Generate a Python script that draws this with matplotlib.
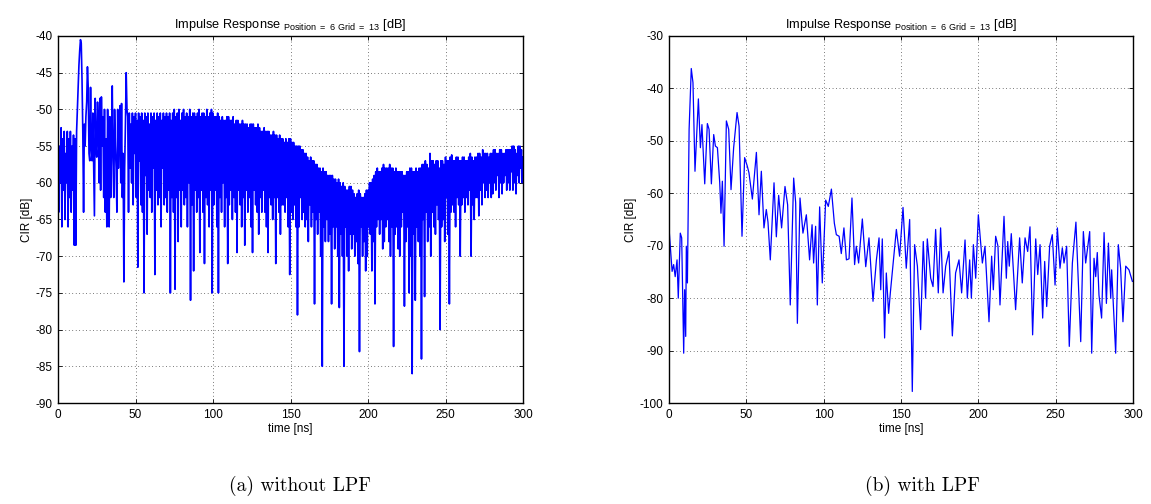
import matplotlib
matplotlib.use("Agg")
import matplotlib.pyplot as plt

# ---------------- data ----------------
# (a) without LPF : CIR in dB, one value every 0.5 ns from 0 to 300 ns
cir_raw_db = [
    -53, -64, -55, -60, -52.5, -66, -54, -61, -53, -65,
    -56, -60, -53, -66, -54, -62, -53, -64, -55, -61,
    -53.5, -68.5, -54, -68.5, -53, -50, -47, -44, -42, -40.5,
    -41, -46, -53, -64, -52, -55, -51, -49, -44.2, -47,
    -56, -57, -47, -55, -57, -50.5, -58, -64.5, -48.5, -55,
    -56.5, -49, -52, -60, -48.5, -61, -48.3, -55, -51, -62,
    -50, -64, -54, -66, -50, -56, -66, -51, -62, -55,
    -46.8, -57, -62, -50, -55, -58, -64, -50, -58, -53,
    -49.5, -60, -49.2, -62, -56, -73.5, -58, -52, -45, -50,
    -51, -64, -50.5, -58, -52, -60, -50.5, -63, -51, -56,
    -50.5, -62, -51.5, -71.5, -50.5, -57, -51, -63, -50.5, -64,
    -51.5, -75, -50.5, -59, -51, -67, -50.5, -61, -52, -62,
    -50.5, -64, -51, -58, -50.5, -72.5, -51.5, -61, -50.5, -63,
    -51, -62, -50.5, -66, -51.5, -58, -50.5, -63, -51, -62,
    -50.5, -64, -51, -61, -50.5, -75, -51.5, -62, -50.5, -64,
    -50, -74.5, -51, -62, -50.5, -68, -50, -61, -51.5, -66,
    -50.5, -61, -50, -63, -51, -62, -50.5, -66, -51, -60,
    -50, -76, -51, -63, -50.5, -72, -50.5, -61, -51, -64,
    -50.5, -62, -50, -69.5, -51, -61, -50.5, -64, -50.5, -71,
    -51, -62, -50, -63, -51, -66, -50.5, -61, -50, -75,
    -50.5, -63, -51, -61, -51, -66, -50.5, -75, -51, -62,
    -51.5, -64, -51, -60, -51.5, -66, -51.5, -62, -51, -71,
    -51, -63, -51.5, -61, -51.5, -65, -51, -62, -52, -64,
    -51.5, -69.5, -51.5, -61, -52, -63, -52, -66, -51.5, -62,
    -52, -68.5, -52, -61, -52, -64, -52.5, -62, -52, -66,
    -52, -69.5, -52, -61, -52.5, -63, -52.5, -64, -52, -67,
    -52.5, -62, -53, -64, -53, -61, -52.5, -64, -53, -66,
    -53, -69.5, -53, -62, -53.5, -63, -53.5, -65, -53, -62,
    -53.5, -71, -53.5, -62, -54, -64, -53.5, -67, -54, -63,
    -54, -63, -54.5, -64, -54, -62, -54.5, -66, -54, -72.5,
    -54, -64, -54.5, -65, -54.5, -63, -55, -66, -55, -78,
    -55, -66, -55, -62, -55.5, -65, -55.5, -64, -56, -66,
    -56, -65, -56.5, -68, -57, -63, -56.5, -66, -57, -64,
    -57, -76.5, -57.5, -65, -57.5, -67, -58, -64, -58, -70,
    -58.5, -85, -58, -66, -58.5, -68, -58.5, -65, -59, -68,
    -59, -67, -59, -76.5, -59, -66, -59.5, -69, -59.5, -66,
    -60, -70, -59.5, -77, -60, -67, -60.5, -70, -60, -85,
    -60.5, -66, -61, -70, -61, -72, -60.5, -67, -60.5, -69,
    -61, -67, -61.5, -70, -62, -68, -61.5, -71, -61, -83,
    -61.5, -66, -62, -70, -62, -68, -61.5, -72, -61, -70,
    -61, -66, -60, -67, -60, -72, -59.5, -68, -59, -76.5,
    -58.5, -66, -58, -65, -58.5, -67, -58.5, -65, -58, -69,
    -57.5, -68, -58, -66, -58, -65, -58, -68, -57.5, -70,
    -58, -66, -58, -82.3, -58.5, -67, -58, -66, -58.5, -69,
    -58.5, -70, -58.5, -66, -58.5, -64, -59, -76.8, -59, -68,
    -58.5, -66, -58.5, -75, -58, -70, -58, -86, -58.5, -67,
    -58.5, -76, -58, -66, -58.5, -68, -58, -70, -58, -84,
    -57.5, -65, -57.5, -75.5, -57, -64, -57.5, -68, -58, -66,
    -56, -70, -57, -64, -57, -66, -57.5, -67, -57, -63,
    -57, -65, -58, -80, -57, -66, -57, -65, -57.5, -68,
    -56.5, -62, -57, -67, -57, -76.5, -56.5, -64, -56.2, -63,
    -57, -64, -57, -66, -56.5, -62, -56.5, -63, -57, -70,
    -57, -63, -56.5, -62, -56.5, -64, -57, -62, -57, -63,
    -56.5, -61, -56, -70, -56.5, -63, -57, -65, -56.5, -62,
    -56.5, -62, -56, -64.5, -56, -61, -56.5, -63, -55.5, -60,
    -56, -62, -56, -61, -56, -62, -56.5, -60, -56, -62,
    -56, -61.5, -55.5, -60, -55.5, -61, -56, -59, -56, -62,
    -55.5, -60, -55.5, -61.5, -56, -60, -56, -59, -55.5, -61,
    -55.5, -60, -55.5, -61, -55.5, -58.5, -55, -61, -55, -60,
    -55.5, -61.5, -56, -59, -55, -60, -55, -58, -55.5, -60,
    -56.5,
]
time_raw_ns = [i * 0.5 for i in range(len(cir_raw_db))]

# (b) with LPF : (time [ns], CIR [dB]) read at the turning points
time_lpf_ns = [
    0, 2, 3, 4, 5.2, 6, 7.3, 8.2, 9.5, 10.1, 10.8, 11.2, 11.9, 13, 14.4, 15.5,
    16.8, 19, 20.3, 21.3, 23.1, 24.8, 25.9, 27.4, 28.9, 30, 31.3, 32.8, 33.6,
    34.5, 35.6, 37.1, 38.6, 40.1, 41.8, 44, 45.3, 47.2, 48.9, 50.6, 51.7, 53.9,
    56.5, 58.2, 59.7, 61.4, 62.9, 64, 65.5, 67.9, 69.4, 70.9, 72.8, 75, 76.7,
    78.4, 80.6, 81.9, 83, 84.7, 86.6, 88.8, 90.9, 92.5, 93.5, 94.8, 95.9, 97.4,
    99.1, 101.3, 103, 105, 106.9, 108.2, 110, 111.4, 113.1, 114.7, 116.4, 118.3,
    120, 121.1, 122.6, 125, 127.2, 129.3, 131.9, 134.1, 135.8, 136.9, 137.9,
    139.4, 140.5, 142, 143.1, 144.4, 147, 149.1, 151.3, 153.4, 155.6, 157.3,
    158.8, 160.6, 162.7, 164.4, 165.9, 167, 169.2, 170.7, 172.4, 174.1, 175.6,
    177.2, 178.9, 181, 183.2, 185.3, 187.5, 189.2, 191.4, 192.9, 194.4, 195.5,
    196.8, 198.3, 200, 202.6, 204.3, 206.9, 208.6, 209.7, 211.2, 212.7, 214,
    216.6, 218.1, 219, 220, 221.3, 224.1, 226.7, 228.4, 230.2, 231.9, 233.4,
    235.1, 237.1, 238.4, 239.9, 241.6, 242.9, 244.2, 246.1, 247.8, 249.6, 251.1,
    252.8, 254.3, 255.4, 257.1, 258.8, 260.8, 263.1, 266.2, 267.9, 269.4, 272,
    273.3, 274.8, 275.9, 276.9, 278, 279.7, 281.3, 282.8, 284.1, 285.6, 286.2,
    288.8, 290.5, 292, 293.5, 295.3, 297.4, 299.6,
]
cir_lpf_db = [
    -66.6, -74.9, -73.6, -75.9, -72.7, -80, -67.6, -68.5, -90.5, -78.4, -87.3,
    -70.1, -77.1, -47.8, -36.2, -38.9, -55.8, -42, -51.3, -46.9, -58.2, -46.7,
    -47.8, -58.2, -48.8, -51, -51.3, -58, -63.8, -57.7, -70.1, -46.2, -47.8,
    -59.3, -51.3, -44.6, -47.2, -68.2, -53.2, -54.8, -56.1, -61.1, -52.2, -64.1,
    -55.8, -66.6, -63.1, -65.5, -72.7, -58, -68.3, -60.4, -66.6, -58.7, -62.2,
    -81.3, -57.1, -61.8, -84.8, -60.9, -67.6, -64.1, -72.7, -66, -73.3, -66.3,
    -81.3, -62.6, -77.1, -61.3, -62.5, -59.2, -65.7, -67.9, -68.2, -71.5, -66.6,
    -72.7, -72.5, -60.9, -73.6, -70.1, -73.3, -64.9, -74, -68.5, -80.6, -72.7,
    -68.5, -78.4, -68.7, -87.6, -75.2, -82.9, -79, -74.9, -66.9, -72, -62.7,
    -74.3, -65, -97.8, -69.8, -73.9, -86, -69.2, -80, -68.7, -76.2, -77.8,
    -66.9, -79, -66.6, -79, -73.9, -71.1, -87.2, -75.2, -72.7, -79, -68.9, -80,
    -72.7, -80, -69.8, -76.2, -64.1, -73.3, -70.1, -84.5, -72, -78.4, -68.2,
    -70.1, -81.3, -64.4, -76.2, -69.2, -73.9, -67.7, -82.2, -68.5, -77.1, -68.5,
    -71.1, -66.4, -87, -68.7, -75.5, -69.8, -83.8, -73, -81.6, -70.1, -67.9,
    -77.5, -66.6, -74.3, -70.4, -73.3, -70.1, -89.2, -73.3, -65.5, -88.3, -67.3,
    -73.3, -67.3, -90.5, -72.4, -75.9, -71.3, -79.4, -83.8, -67.5, -81, -69.5,
    -80, -74.6, -90.5, -69.8, -74.3, -84.5, -73.9, -74.6, -76.8,
]

x_ticks = [0, 50, 100, 150, 200, 250, 300]
y_ticks_a = [-40, -45, -50, -55, -60, -65, -70, -75, -80, -85, -90]
y_ticks_b = [-30, -40, -50, -60, -70, -80, -90, -100]
title_text = r"Impulse Response $_{\mathrm{Position\ {=}\ 6\ Grid\ {=}\ 13}}$ [dB]"
captions = ["(a) without LPF", "(b) with LPF"]

# ---------------- style ----------------
plt.rcParams["font.family"] = ["Liberation Sans", "DejaVu Sans"]
plt.rcParams["mathtext.fontset"] = "custom"
plt.rcParams["mathtext.rm"] = "Liberation Sans"
plt.rcParams["axes.unicode_minus"] = False

W, H = 1151, 504
fig = plt.figure(figsize=(W / 100, H / 100), dpi=100)


def make_axes(rect, x, y, yticks, lw):
    ax = fig.add_axes(rect)
    ax.plot(x, y, color="#0000ff", lw=lw)
    ax.set_xlim(0, 300)
    ax.set_ylim(yticks[-1], yticks[0])
    ax.set_xticks(x_ticks)
    ax.set_yticks(yticks)
    ax.tick_params(direction="in", top=True, right=True, labelsize=8.5,
                   length=3, width=0.6, pad=4)
    ax.grid(True, color="black", linestyle=(0, (1, 4)), linewidth=0.5)
    for s in ax.spines.values():
        s.set_linewidth(1.0)
    ax.set_xlabel("time [ns]", fontsize=8.5, labelpad=2)
    ax.set_ylabel("CIR [dB]", fontsize=8.5, labelpad=2)
    ax.set_title(title_text, fontsize=9.2, pad=6)
    return ax


axL = make_axes([58 / W, 1 - 403 / H, 465 / W, 367 / H],
                time_raw_ns, cir_raw_db, y_ticks_a, 1.2)
axR = make_axes([669 / W, 1 - 403 / H, 464 / W, 367 / H],
                time_lpf_ns, cir_lpf_db, y_ticks_b, 0.9)

fig.text(300 / W, 1 - 486 / H, captions[0], family="cmr10", fontsize=14,
         ha="center", va="center")
fig.text(922 / W, 1 - 486 / H, captions[1], family="cmr10", fontsize=14,
         ha="center", va="center")

fig.savefig("out.png", dpi=100)
